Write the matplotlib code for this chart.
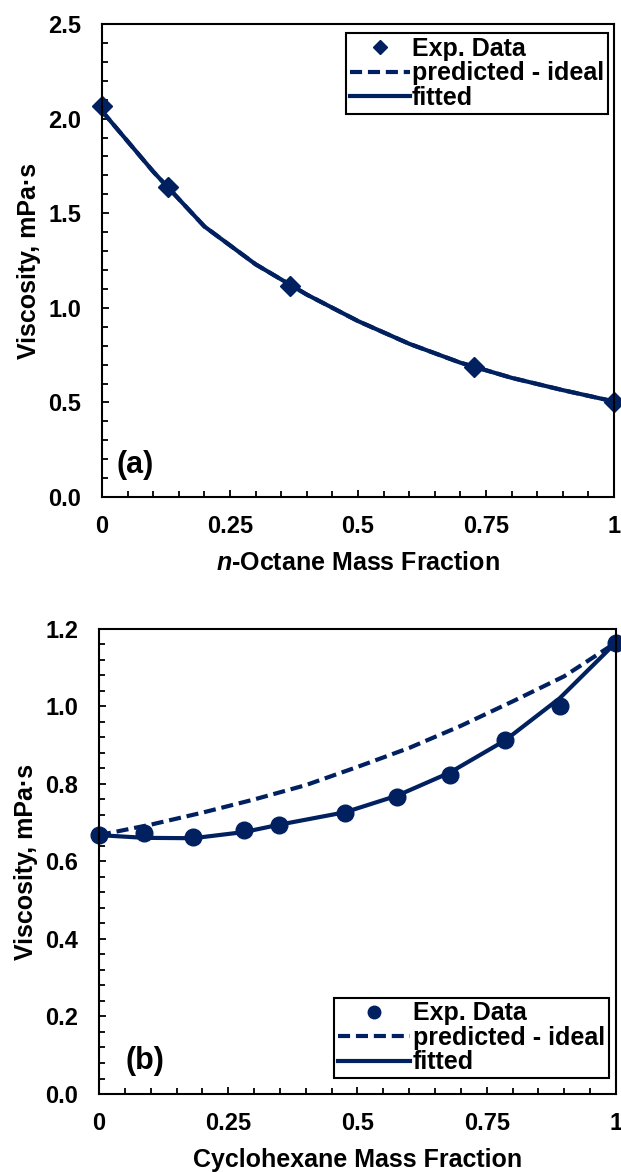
import matplotlib
matplotlib.use("Agg")
import matplotlib.pyplot as plt
from matplotlib.ticker import MultipleLocator, FixedLocator, FixedFormatter

plt.rcParams['font.family'] = ['Liberation Sans', 'DejaVu Sans']
plt.rcParams['font.weight'] = 'bold'
plt.rcParams['axes.labelweight'] = 'bold'
plt.rcParams['mathtext.fontset'] = 'custom'
plt.rcParams['mathtext.it'] = 'Liberation Sans:italic:bold'
plt.rcParams['mathtext.rm'] = 'Liberation Sans:bold'

NAVY = '#002060'

# panel (a): n-octane
octane_x = [0.0, 0.128, 0.367, 0.727, 1.0]
octane_y = [2.065, 1.638, 1.118, 0.689, 0.503]
octane_fit_x = [0.0, 0.1, 0.2, 0.3, 0.4, 0.5, 0.6, 0.7, 0.8, 0.9, 1.0]
octane_fit_y = [2.04, 1.72, 1.43, 1.23, 1.07, 0.93, 0.81, 0.71, 0.63, 0.565, 0.505]
octane_ideal_y = [2.04, 1.72, 1.43, 1.23, 1.07, 0.93, 0.81, 0.71, 0.63, 0.565, 0.505]

# panel (b): cyclohexane
cyclo_x = [0.0, 0.088, 0.182, 0.281, 0.349, 0.476, 0.577, 0.678, 0.785, 0.891, 1.0]
cyclo_y = [0.668, 0.674, 0.663, 0.680, 0.695, 0.724, 0.767, 0.823, 0.914, 1.001, 1.165]
cyclo_fit_y = [0.668, 0.661, 0.660, 0.676, 0.695, 0.727, 0.770, 0.829, 0.912, 1.021, 1.165]
cyclo_ideal_x = [0.0, 0.1, 0.2, 0.3, 0.4, 0.5, 0.6, 0.7, 0.8, 0.9, 1.0]
cyclo_ideal_y = [0.668, 0.695, 0.726, 0.760, 0.797, 0.844, 0.893, 0.950, 1.013, 1.078, 1.165]

x_ticks = [0, 0.25, 0.5, 0.75, 1]
x_ticklabels = ['0', '0.25', '0.5', '0.75', '1']

TICK_FS = 17
LABEL_FS = 18

fig = plt.figure(figsize=(6.21, 11.72), dpi=100)
ax1 = fig.add_axes([0.1643, 0.5759, 0.8245, 0.4036])
ax2 = fig.add_axes([0.1594, 0.06655, 0.8325, 0.3968])


def style_axis(ax, ymax, ymajor, yminor, xlabel, tag, tag_xy):
    ax.set_xlim(0, 1)
    ax.set_ylim(0, ymax)
    ax.xaxis.set_major_locator(FixedLocator(x_ticks))
    ax.xaxis.set_major_formatter(FixedFormatter(x_ticklabels))
    ax.xaxis.set_minor_locator(MultipleLocator(0.05))
    ax.yaxis.set_major_locator(MultipleLocator(ymajor))
    ax.yaxis.set_minor_locator(MultipleLocator(yminor))
    ax.yaxis.set_major_formatter(plt.FormatStrFormatter('%.1f'))
    ax.tick_params(which='both', direction='in', top=False, right=False,
                   width=1.3, labelsize=TICK_FS)
    ax.tick_params(which='major', length=5)
    ax.tick_params(which='minor', length=4)
    ax.tick_params(axis='x', which='major', pad=13)
    ax.tick_params(axis='y', which='major', pad=15)
    for s in ax.spines.values():
        s.set_linewidth(1.5)
    ax.set_ylabel('Viscosity, mPa·s', fontsize=LABEL_FS, labelpad=5)
    ax.set_xlabel(xlabel, fontsize=LABEL_FS, labelpad=9)
    ax.text(tag_xy[0], tag_xy[1], tag, transform=ax.transAxes, fontsize=22,
            fontweight='bold', va='center', ha='left')


ax1.plot(octane_fit_x, octane_ideal_y, color=NAVY, lw=3, dashes=(2.9, 1.4),
         label='predicted - ideal')
ax1.plot(octane_fit_x, octane_fit_y, color=NAVY, lw=3, label='fitted')
ax1.plot(octane_x, octane_y, 'D', color=NAVY, ms=10.5, clip_on=False,
         label='Exp. Data')
style_axis(ax1, 2.5, 0.5, 0.1, r'$\mathit{n}$-Octane Mass Fraction', '(a)',
           (0.028, 0.067))

ax2.plot(cyclo_ideal_x, cyclo_ideal_y, color=NAVY, lw=3, dashes=(2.9, 1.4),
         label='predicted - ideal')
ax2.plot(cyclo_x, cyclo_fit_y, color=NAVY, lw=3, label='fitted')
ax2.plot(cyclo_x, cyclo_y, 'o', color=NAVY, ms=12, clip_on=False,
         label='Exp. Data')
style_axis(ax2, 1.2, 0.2, 0.04, 'Cyclohexane Mass Fraction', '(b)',
           (0.052, 0.071))

for ax, loc, anchor, mscale, hl in [(ax1, 'upper right', (0.988, 0.981), 0.7, 2.4),
                                    (ax2, 'lower right', (0.986, 0.034), 0.75, 2.9)]:
    h, l = ax.get_legend_handles_labels()
    order = [2, 0, 1]
    leg = ax.legend([h[i] for i in order], [l[i] for i in order], loc=loc,
                    bbox_to_anchor=anchor, borderaxespad=0, fontsize=LABEL_FS,
                    frameon=True, fancybox=False, edgecolor='black',
                    framealpha=1, labelspacing=0.02, borderpad=0.15,
                    handlelength=hl, handletextpad=0.1, markerscale=mscale)
    leg.get_frame().set_linewidth(1.5)

fig.savefig('out.png', dpi=100)
